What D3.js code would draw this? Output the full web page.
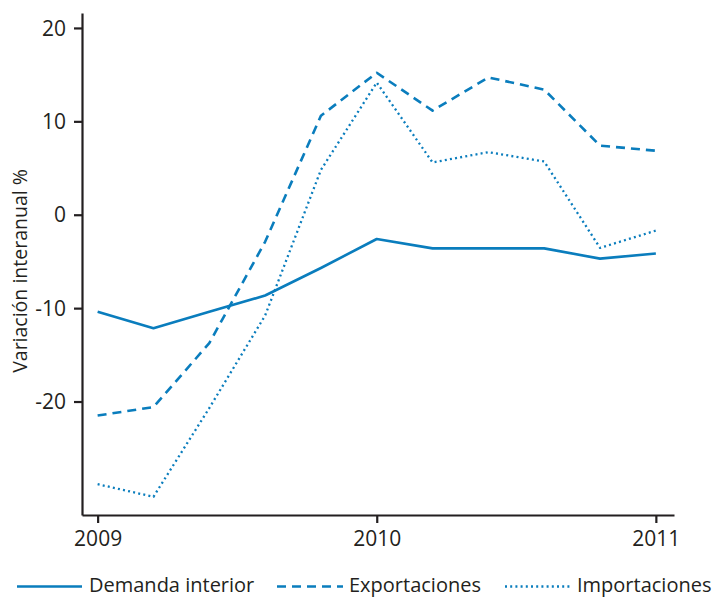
<!DOCTYPE html>
<html>
<head>
<meta charset="utf-8">
<script src="https://cdn.jsdelivr.net/npm/d3@7"></script>
<style>
  html, body { margin: 0; padding: 0; background: #fff; }
  svg { display: block; }
  text { font-family: "Open Sans", sans-serif; fill: #231f20; }
</style>
</head>
<body>
<svg id="chart" width="717" height="597"></svg>
<script>
// ---- data ----
const periods = [2009, 2009.2, 2009.4, 2009.6, 2009.8, 2010, 2010.2, 2010.4, 2010.6, 2010.8, 2011];
const demandaInterior = [-10.4, -12.15, -10.4, -8.65, -5.7, -2.6, -3.6, -3.6, -3.6, -4.7, -4.15];
const exportaciones   = [-21.5, -20.6, -13.75, -2.9, 10.6, 15.2, 11.15, 14.7, 13.4, 7.4, 6.85];
const importaciones   = [-28.85, -30.2, -20.7, -10.8, 4.8, 14.15, 5.6, 6.7, 5.7, -3.55, -1.7];
const xTicks = [2009, 2010, 2011];
const yTicks = [-20, -10, 0, 10, 20];
const seriesNames = ["Demanda interior", "Exportaciones", "Importaciones"];
const yTitle = "Variación interanual %";

// ---- layout ----
const svg = d3.select("#chart");
const color = "#0a7dbd";
const axisColor = "#231f20";
const x = d3.scaleLinear().domain([2008.944, 2011.065]).range([82, 674]);
const y = d3.scaleLinear().domain([-32.15, 21.6]).range([515, 13]);

const series = [
  { name: seriesNames[0], values: demandaInterior, dash: null, width: 2.6 },
  { name: seriesNames[1], values: exportaciones, dash: "9,6", width: 2.6 },
  { name: seriesNames[2], values: importaciones, dash: "2,3.2", width: 2.3 }
];

const line = d3.line().x((d, i) => x(periods[i])).y(d => y(d));

svg.append("g").selectAll("path")
  .data(series)
  .join("path")
  .attr("d", s => line(s.values))
  .attr("fill", "none")
  .attr("stroke", color)
  .attr("stroke-width", s => s.width)
  .attr("stroke-dasharray", s => s.dash)
  .attr("stroke-linejoin", "round");

// axes
const yAxis = svg.append("g")
  .attr("transform", "translate(82,0)")
  .call(d3.axisLeft(y).tickValues(yTicks).tickFormat(d => String(d)).tickSize(8).tickPadding(8).tickSizeOuter(0));
const xAxis = svg.append("g")
  .attr("transform", "translate(0,515)")
  .call(d3.axisBottom(x).tickValues(xTicks).tickFormat(d => String(d)).tickSize(8).tickPadding(8).tickSizeOuter(0));

[yAxis, xAxis].forEach(g => {
  g.select(".domain").attr("stroke", axisColor).attr("stroke-width", 2.2);
  g.selectAll(".tick line").attr("stroke", axisColor).attr("stroke-width", 2.2);
  g.selectAll(".tick text").attr("fill", axisColor).style("font-size", "21px").style("font-family", "Open Sans, sans-serif");
});
yAxis.selectAll(".tick text").attr("dy", "0.34em");
xAxis.selectAll(".tick text").attr("dy", "0.7em");

// y title
svg.append("text")
  .attr("transform", "translate(27,271) rotate(-90)")
  .attr("text-anchor", "middle")
  .style("font-size", "19.5px")
  .text(yTitle);

// legend
const legendItems = [
  { name: seriesNames[0], x0: 17, x1: 82, tx: 89, dash: null, width: 2.6 },
  { name: seriesNames[1], x0: 277, x1: 343, tx: 349, dash: "9,6", width: 2.6 },
  { name: seriesNames[2], x0: 505, x1: 572, tx: 577, dash: "2,3.2", width: 2.3 }
];
const lg = svg.append("g");
lg.selectAll("line")
  .data(legendItems)
  .join("line")
  .attr("x1", d => d.x0).attr("x2", d => d.x1)
  .attr("y1", 586.5).attr("y2", 586.5)
  .attr("stroke", color)
  .attr("stroke-width", d => d.width)
  .attr("stroke-dasharray", d => d.dash);
lg.selectAll("text")
  .data(legendItems)
  .join("text")
  .attr("x", d => d.tx)
  .attr("y", 592)
  .style("font-size", "20px")
  .text(d => d.name);
</script>
</body>
</html>
